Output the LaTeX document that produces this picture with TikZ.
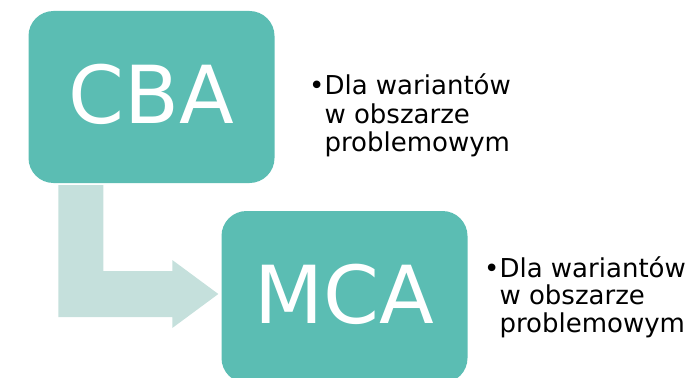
\documentclass[tikz,border=0pt]{standalone}
\usepackage{fontspec}
\setmainfont{DejaVu Sans}
\usetikzlibrary{calc}
\definecolor{boxteal}{HTML}{5BBDB3}
\definecolor{arrowpale}{HTML}{C5E0DC}
\begin{document}
\begin{tikzpicture}[x=1pt,y=-1pt,
  bigbox/.style={fill=boxteal,draw=none,rounded corners=25pt,minimum width=246pt,minimum height=172pt,inner sep=0pt,text=white,text depth=6pt,font=\fontsize{80}{90}\selectfont},
  bullettext/.style={anchor=base west,inner sep=0pt,text=black}]
\useasboundingbox (0,0) rectangle (692,377);
\node[bigbox] (cba) at (151.5,97) {CBA};
\node[bigbox] (mca) at (344.5,297) {MCA};
\coordinate (tip) at ($(mca.west)+(-3,-3)$);
\fill[arrowpale] ($(cba.south west)+(30,2)$) -- ($(cba.south west)+(75,2)$)
  |- ($(tip)+(-46,-23)$) -- ($(tip)+(-46,-34)$) -- (tip)
  -- ($(tip)+(-46,34)$) -- ($(tip)+(-46,23)$) -| ($(cba.south west)+(30,2)$) -- cycle;
\node[bullettext] (t1) at (309,95) {\fontsize{26}{28}\selectfont\begin{tabular}[t]{@{}l@{}l@{}}•&Dla wariantów\\&w obszarze\\&problemowym\end{tabular}};
\node[bullettext] (t2) at (484,277) {\fontsize{26}{27}\selectfont\begin{tabular}[t]{@{}l@{}l@{}}•&Dla wariantów\\&w obszarze\\&problemowym\end{tabular}};
\end{tikzpicture}
\end{document}
